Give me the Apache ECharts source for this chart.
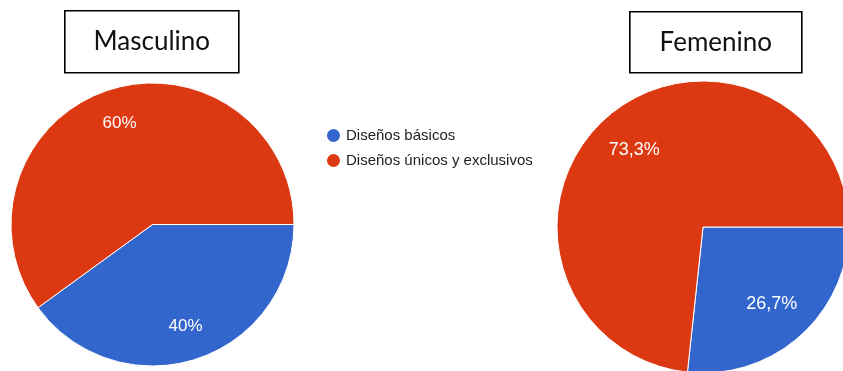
<!DOCTYPE html>
<html>
<head>
<meta charset="utf-8">
<script src="https://cdn.jsdelivr.net/npm/echarts@6/dist/echarts.min.js"></script>
<style>
  html, body { margin: 0; padding: 0; background: #fff; }
  #chart { width: 843px; height: 371px; }
</style>
</head>
<body>
<div id="chart"></div>
<script>
const categories = ['Diseños básicos', 'Diseños únicos y exclusivos'];
const masculino = [40, 60];
const femenino = [26.7, 73.3];
const masculinoLabels = ['40%', '60%'];
const femeninoLabels = ['26,7%', '73,3%'];
const titles = ['Masculino', 'Femenino'];

const colors = ['#3366CC', '#DC3912'];

const toData = (values) => values.map((v, i) => ({ name: categories[i], value: v }));

// solid pie, no labels
const basePie = (values, center, radius) => ({
  type: 'pie',
  center,
  radius,
  startAngle: 0,
  clockwise: true,
  animation: false,
  silent: true,
  label: { show: false },
  labelLine: { show: false },
  itemStyle: { borderColor: '#fff', borderWidth: 1 },
  data: toData(values)
});

// transparent ring that only carries the labels further out
const labelRing = (values, labels, center, radius, fontSize) => ({
  type: 'pie',
  center,
  radius,
  startAngle: 0,
  clockwise: true,
  animation: false,
  silent: true,
  itemStyle: { color: 'transparent' },
  label: {
    show: true,
    position: 'inside',
    color: '#fff',
    fontFamily: 'Arial, "Liberation Sans", sans-serif',
    fontSize,
    formatter: (p) => labels[p.dataIndex]
  },
  labelLine: { show: false },
  data: toData(values)
});

const titleBox = (text, x, y, w, h) => ({
  type: 'group',
  left: x,
  top: y,
  children: [
    {
      type: 'rect',
      shape: { x: 0, y: 0, width: w, height: h },
      style: { fill: '#fff', stroke: '#000', lineWidth: 1.6 }
    },
    {
      type: 'text',
      x: w / 2,
      y: h / 2,
      style: {
        text,
        fill: '#111',
        font: '26px Lato, "Open Sans", sans-serif',
        textAlign: 'center',
        textVerticalAlign: 'middle'
      }
    }
  ]
});

const chart = echarts.init(document.getElementById('chart'));
chart.setOption({
  backgroundColor: '#fff',
  color: colors,
  legend: {
    orient: 'vertical',
    left: 320,
    top: 122,
    icon: 'circle',
    itemWidth: 15,
    itemHeight: 15,
    itemGap: 8,
    selectedMode: false,
    data: categories,
    textStyle: {
      color: '#222',
      fontSize: 15,
      fontFamily: 'Arial, "Liberation Sans", sans-serif'
    }
  },
  graphic: [
    titleBox(titles[0], 64, 10, 174, 62),
    titleBox(titles[1], 629, 11, 172, 61)
  ],
  series: [
    basePie(masculino, [152.5, 224.5], [0, 141.5]),
    basePie(femenino, [703, 227], [0, 146]),
    labelRing(masculino, masculinoLabels, [152.5, 224.5], [66, 141.5], 17),
    labelRing(femenino, femeninoLabels, [703, 227], [54, 146], 18)
  ]
});
</script>
</body>
</html>
